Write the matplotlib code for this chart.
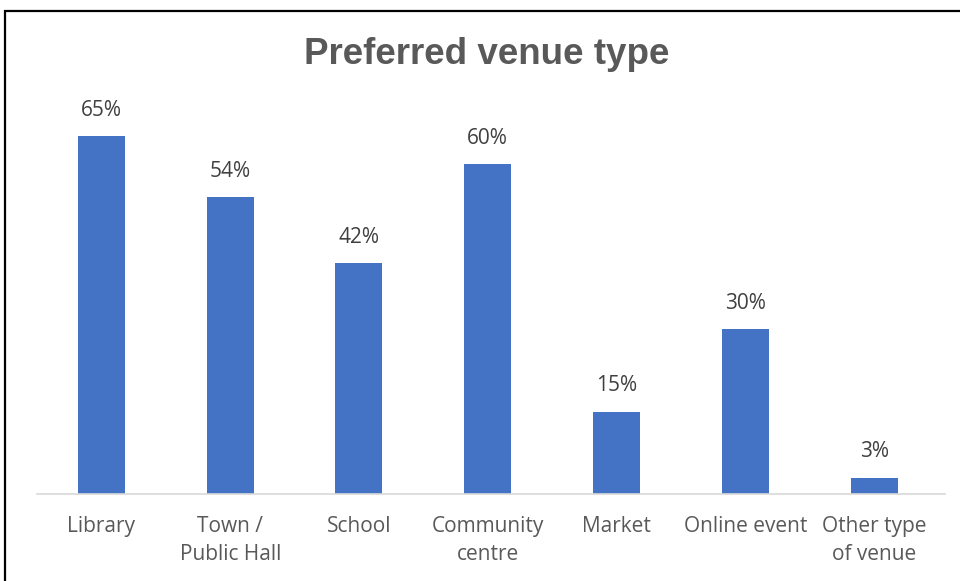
import matplotlib.pyplot as plt
from matplotlib.patches import Rectangle

venues = ["Library", "Town /\nPublic Hall", "School", "Community\ncentre",
          "Market", "Online event", "Other type\nof venue"]
shares = [65, 54, 42, 60, 15, 30, 3]

fig = plt.figure(figsize=(9.6, 5.81), dpi=100)
ax = fig.add_axes([37 / 960, 87 / 581, 908 / 960, 385 / 581])

x = range(len(venues))
bars = ax.bar(x, shares, width=0.365, color="#4472C4", zorder=2)

for b, v in zip(bars, shares):
    ax.annotate(f"{v}%", (b.get_x() + b.get_width() / 2, v),
                xytext=(0, 11), textcoords="offset points",
                ha="center", va="bottom", fontsize=15, color="#404040",
                family="Open Sans", annotation_clip=False)

ax.set_xlim(-0.5, 6.55)
ax.set_ylim(0, 70)
ax.set_xticks(list(x))
ax.set_xticklabels(venues, fontsize=15, color="#595959", family="Open Sans",
                   linespacing=1.4)
ax.tick_params(axis="x", length=0, pad=16)
ax.set_yticks([])
for s in ["top", "right", "left"]:
    ax.spines[s].set_visible(False)
ax.spines["bottom"].set_color("#D9D9D9")
ax.spines["bottom"].set_linewidth(1.2)

fig.text(487 / 960, 1 - 55 / 581, "Preferred venue type", ha="center",
         va="center", fontsize=26.5, fontweight="bold", color="#595959",
         family="Liberation Sans")

# outer frame, cut off at the right and bottom edges
fig.patches.append(Rectangle((5 / 960, -0.1), 1.2, 1 - 11 / 581 + 0.1,
                             transform=fig.transFigure, fill=False,
                             edgecolor="black", linewidth=1.6))

fig.savefig("out.png", dpi=100)
